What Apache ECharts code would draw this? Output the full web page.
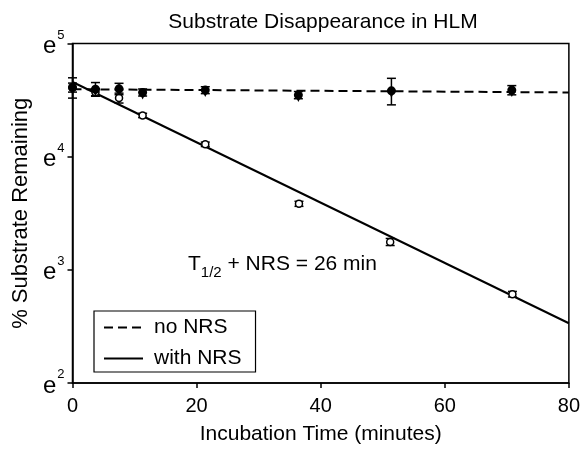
<!DOCTYPE html>
<html>
<head>
<meta charset="utf-8">
<script src="https://cdn.jsdelivr.net/npm/echarts@6/dist/echarts.min.js"></script>
<style>html,body{margin:0;padding:0;background:#fff}#c{width:583px;height:450px}</style>
</head>
<body>
<div id="c"></div>
<script>
// Incubation times (minutes)
const timeNo = [0, 3.7, 7.5, 11.3, 21.4, 36.4, 51.4, 70.8];
const timeWith = [0, 3.7, 7.5, 11.3, 21.4, 36.5, 51.2, 70.9];
// % substrate remaining (mean) and error (+/-)
const pctNo = [100.6, 99.1, 99.4, 96.3, 98.3, 94.1, 97.7, 98.3];
const errNo = [9, 6, 5, 3, 3, 3, 11.4, 4];
const pctWith = [100.6, 96.5, 91.7, 78.6, 60.9, 36.0, 25.7, 16.2];
const errWith = [4, 3, 4, 1.5, 1.2, 0.8, 0.8, 0.4];
// fitted lines: [time, %]
const fitNo = [[0, 99.1], [80, 96.3]];
const fitWith = [[0, 105.6], [80, 12.53]];
// axis ticks
const xTicks = [0, 20, 40, 60, 80];
const yTickExps = [2, 3, 4, 5];

const ln = Math.log;
const FONT = 'Liberation Sans, Arial, sans-serif';

function pts(t, p) { return t.map((x, i) => [x, ln(p[i])]); }
function errs(t, p, e) { return t.map((x, i) => [x, ln(p[i]), ln(p[i] - e[i]), ln(p[i] + e[i])]); }

function errRender(params, api) {
  const x = api.value(0);
  const lo = api.coord([x, api.value(2)]);
  const hi = api.coord([x, api.value(3)]);
  const w = 4.5;
  const st = { stroke: '#000', lineWidth: 1.5 };
  return {
    type: 'group',
    children: [
      { type: 'line', shape: { x1: lo[0], y1: lo[1], x2: hi[0], y2: hi[1] }, style: st },
      { type: 'line', shape: { x1: lo[0] - w, y1: lo[1], x2: lo[0] + w, y2: lo[1] }, style: st },
      { type: 'line', shape: { x1: hi[0] - w, y1: hi[1], x2: hi[0] + w, y2: hi[1] }, style: st }
    ]
  };
}

const chart = echarts.init(document.getElementById('c'));
chart.setOption({
  backgroundColor: '#fff',
  animation: false,
  textStyle: { fontFamily: FONT, color: '#000' },
  title: {
    text: 'Substrate Disappearance in HLM',
    left: 318, top: 7, textAlign: 'center',
    textStyle: { fontFamily: FONT, fontSize: 21, fontWeight: 'normal', color: '#000' }
  },
  grid: { left: 72.5, right: 12.5, top: 43.5, bottom: 61, show: true, borderColor: '#000', borderWidth: 1.5 },
  legend: {
    left: 94, top: 311, orient: 'vertical',
    backgroundColor: '#fff', borderColor: '#000', borderWidth: 1.2,
    padding: [6, 14, 3, 9], itemGap: 10, itemWidth: 39, itemHeight: 14,
    itemStyle: { opacity: 0 },
    textStyle: { fontFamily: FONT, fontSize: 21, color: '#000', padding: [0, 0, 0, 6] },
    data: ['no NRS', 'with NRS']
  },
  xAxis: {
    type: 'value', min: xTicks[0], max: xTicks[xTicks.length - 1], interval: 20,
    name: 'Incubation Time (minutes)', nameLocation: 'middle', nameGap: 41,
    nameTextStyle: { fontFamily: FONT, fontSize: 21, color: '#000' },
    axisLine: { lineStyle: { color: '#000', width: 1.5 } },
    axisTick: { show: true, length: 5, lineStyle: { color: '#000', width: 1.5 } },
    axisLabel: { fontFamily: FONT, fontSize: 20, color: '#000', margin: 13 },
    splitLine: { show: false }
  },
  yAxis: {
    type: 'value', min: yTickExps[0], max: yTickExps[yTickExps.length - 1], interval: 1,
    name: '% Substrate Remaining', nameLocation: 'middle', nameGap: 41,
    nameTextStyle: { fontFamily: FONT, fontSize: 22, color: '#000' },
    axisLine: { show: true, lineStyle: { color: '#000', width: 1.5 } },
    axisTick: { show: true, length: 5, lineStyle: { color: '#000', width: 1.5 } },
    axisLabel: {
      margin: 8,
      formatter: v => '{b|e}{s|' + v + '}',
      rich: {
        b: { fontFamily: FONT, fontSize: 24, color: '#000', verticalAlign: 'bottom', padding: [6, 0, 0, 0] },
        s: { fontFamily: FONT, fontSize: 13, color: '#000', verticalAlign: 'top', padding: [0, 0, 0, 1] }
      }
    },
    splitLine: { show: false }
  },
  graphic: [{
    type: 'text', left: 188, top: 254,
    style: {
      text: '{a|T}{s|1/2}{a| + NRS = 26 min}',
      rich: {
        a: { fontFamily: FONT, fontSize: 21, fill: '#000', verticalAlign: 'bottom' },
        s: { fontFamily: FONT, fontSize: 15, fill: '#000', verticalAlign: 'bottom', padding: [0, 0, -5, 0] }
      }
    }
  }],
  series: [
    {
      name: 'no NRS', type: 'line', data: fitNo.map(d => [d[0], ln(d[1])]),
      symbol: 'none', lineStyle: { color: '#000', width: 2, type: [9, 5] }, itemStyle: { color: '#000' }, z: 2
    },
    {
      name: 'with NRS', type: 'line', data: fitWith.map(d => [d[0], ln(d[1])]),
      symbol: 'none', lineStyle: { color: '#000', width: 2, type: 'solid' }, itemStyle: { color: '#000' }, z: 2
    },
    { type: 'custom', renderItem: errRender, data: errs(timeNo, pctNo, errNo), z: 3 },
    { type: 'custom', renderItem: errRender, data: errs(timeWith, pctWith, errWith), z: 3 },
    {
      type: 'scatter', data: pts(timeWith, pctWith), symbol: 'circle', symbolSize: 7,
      itemStyle: { color: '#fff', borderColor: '#000', borderWidth: 1.5, opacity: 1 }, z: 4
    },
    {
      type: 'scatter', data: pts(timeNo, pctNo), symbol: 'circle', symbolSize: 9,
      itemStyle: { color: '#000', opacity: 1 }, z: 5
    },
    {
      type: 'scatter', data: pts(timeNo, pctNo), symbol: 'triangle', symbolRotate: 180, symbolSize: 8,
      symbolOffset: [0, 3], itemStyle: { color: '#000', opacity: 1 }, z: 5
    }
  ]
});
</script>
</body>
</html>
